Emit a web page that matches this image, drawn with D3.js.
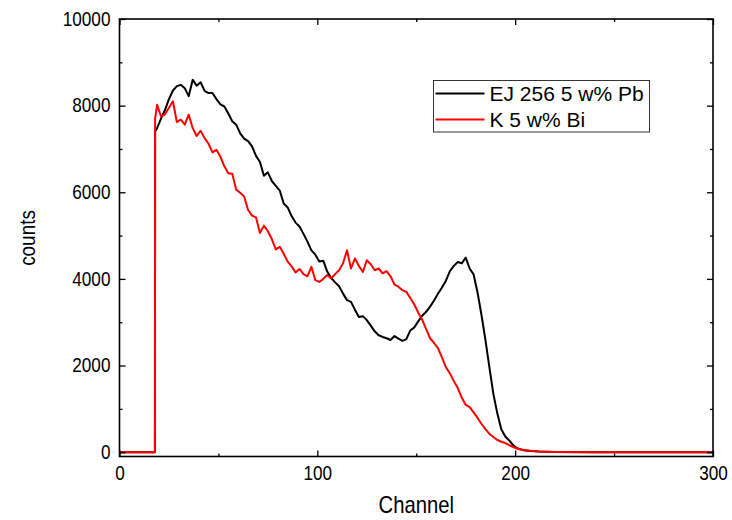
<!DOCTYPE html>
<html>
<head>
<meta charset="utf-8">
<script src="https://cdn.jsdelivr.net/npm/d3@7"></script>
<style>
  body { margin: 0; background: #fff; }
  text { font-family: "Liberation Sans", Arial, sans-serif; }
</style>
</head>
<body>
<div id="canvas"></div>
<script>
"use strict"

let drawingWidth = 732;
let drawingHeight = 520;

/* data */
let channels = [0, 17.9, 18, 19, 21, 23, 25, 27, 29, 31, 33, 35, 37, 39, 41, 43, 45, 47, 49,
    51, 53, 55, 57, 59, 61, 63, 65, 67, 69, 71, 73, 75, 77, 79, 81, 83, 85, 87, 89,
    91, 93, 95, 97, 99, 101, 103, 105, 107, 109, 111, 113, 115, 117, 119, 121, 123, 125, 127, 129,
    131, 133, 135, 137, 139, 141, 143, 145, 147, 149, 151, 153, 155, 157, 159, 161, 163, 165, 167, 169,
    171, 173, 175, 177, 179, 181, 183, 185, 187, 189, 191, 193, 195, 197, 199, 201, 203, 205, 208,
    212, 220, 240, 300];

let countsPb = [0, 0, 7400, 7480, 7700, 7900, 8150, 8350, 8450, 8480, 8400, 8220, 8600, 8460, 8540, 8340, 8290, 8290, 8150,
    8030, 7980, 7820, 7640, 7560, 7360, 7240, 7180, 7060, 6840, 6700, 6380, 6460, 6260, 6150, 6040, 5740, 5650, 5450, 5300,
    5210, 5040, 4860, 4660, 4560, 4400, 4420, 4170, 4020, 3920, 3830, 3660, 3510, 3470, 3290, 3120, 3140, 3050, 2920, 2790,
    2700, 2660, 2630, 2590, 2680, 2620, 2570, 2610, 2810, 2880, 3020, 3150, 3240, 3360, 3500, 3660, 3800, 3960, 4180, 4300,
    4390, 4360, 4490, 4240, 4100, 3680, 3160, 2580, 1950, 1340, 890, 530, 360, 270, 160, 90, 60, 40, 25,
    15, 5, 0, 0];

let countsBi = [0, 0, 7700, 8020, 7750, 7800, 7950, 8100, 7620, 7680, 7560, 7790, 7480, 7300, 7420, 7250, 7120, 6920, 6980,
    6820, 6600, 6440, 6430, 6060, 5990, 5900, 5590, 5460, 5420, 5060, 5230, 5100, 4920, 4680, 4740, 4580, 4400, 4290, 4150,
    4230, 4110, 4060, 4280, 3970, 3930, 4000, 4090, 4010, 4110, 4200, 4360, 4660, 4240, 4470, 4300, 4160, 4430, 4340, 4200,
    4240, 4130, 4180, 4060, 3870, 3820, 3740, 3700, 3560, 3410, 3220, 3060, 2840, 2630, 2520, 2400, 2190, 1960, 1820, 1640,
    1480, 1260, 1090, 1040, 920, 790, 650, 530, 420, 350, 280, 240, 210, 160, 120, 80, 60, 50, 30,
    15, 5, 0, 0];

let seriesNames = ["EJ 256 5 w% Pb", "K 5 w% Bi"];
let seriesColors = ["#000000", "#ff0000"];
let xTickValues = [0, 100, 200, 300];
let xMinorValues = [50, 150, 250];
let yTickValues = [0, 2000, 4000, 6000, 8000, 10000];
let yMinorValues = [1000, 3000, 5000, 7000, 9000];

let plotLeft = 119.5, plotRight = 713, plotTop = 19, plotBottom = 456.5;
let squeeze = 0.88; // the original font is a bit narrow

let drawing = d3.select("#canvas")
    .append("svg")
    .attr("width", drawingWidth)
    .attr("height", drawingHeight);

let xScale = d3.scaleLinear().domain([0, 300]).range([plotLeft, plotRight]);
let yScale = d3.scaleLinear().domain([-100, 10000]).range([plotBottom, plotTop]);

/* curves: black first, red drawn over it */
let lineMaker = d3.line()
    .x((d, i) => xScale(channels[i]))
    .y(d => yScale(d));

[countsPb, countsBi].forEach((counts, k) => {
    drawing.append("path")
        .attr("d", lineMaker(counts))
        .attr("fill", "none")
        .attr("stroke", seriesColors[k])
        .attr("stroke-width", 2)
        .attr("stroke-linejoin", "round");
});

/* axes with inward ticks on all four sides */
function styleAxis(g) {
    g.select(".domain").remove();
    g.selectAll("line").attr("stroke", "#000").attr("stroke-width", 1.3);
    g.selectAll("text")
        .attr("fill", "#000")
        .style("font-size", "19.5px")
        .attr("transform", `scale(${squeeze},1)`);
}

drawing.append("g").attr("transform", `translate(0,${plotBottom})`)
    .call(d3.axisBottom(xScale).tickValues(xTickValues).tickSizeInner(-6).tickSizeOuter(0).tickPadding(9.5))
    .call(styleAxis);
drawing.append("g").attr("transform", `translate(0,${plotBottom})`)
    .call(d3.axisBottom(xScale).tickValues(xMinorValues).tickSizeInner(-3).tickSizeOuter(0).tickFormat(""))
    .call(styleAxis);
drawing.append("g").attr("transform", `translate(0,${plotTop})`)
    .call(d3.axisTop(xScale).tickValues(xTickValues).tickSizeInner(-6).tickSizeOuter(0).tickFormat(""))
    .call(styleAxis);
drawing.append("g").attr("transform", `translate(0,${plotTop})`)
    .call(d3.axisTop(xScale).tickValues(xMinorValues).tickSizeInner(-3).tickSizeOuter(0).tickFormat(""))
    .call(styleAxis);

drawing.append("g").attr("transform", `translate(${plotLeft},0)`)
    .call(d3.axisLeft(yScale).tickValues(yTickValues).tickSizeInner(-6).tickSizeOuter(0).tickPadding(10.3).tickFormat(d3.format("d")))
    .call(styleAxis);
drawing.append("g").attr("transform", `translate(${plotLeft},0)`)
    .call(d3.axisLeft(yScale).tickValues(yMinorValues).tickSizeInner(-3).tickSizeOuter(0).tickFormat(""))
    .call(styleAxis);
drawing.append("g").attr("transform", `translate(${plotRight},0)`)
    .call(d3.axisRight(yScale).tickValues(yTickValues).tickSizeInner(-6).tickSizeOuter(0).tickFormat(""))
    .call(styleAxis);
drawing.append("g").attr("transform", `translate(${plotRight},0)`)
    .call(d3.axisRight(yScale).tickValues(yMinorValues).tickSizeInner(-3).tickSizeOuter(0).tickFormat(""))
    .call(styleAxis);

/* plot frame */
drawing.append("rect")
    .attr("x", plotLeft)
    .attr("y", plotTop)
    .attr("width", plotRight - plotLeft)
    .attr("height", plotBottom - plotTop)
    .attr("fill", "none")
    .attr("stroke", "#000")
    .attr("stroke-width", 1.6);

/* axis titles */
drawing.append("text")
    .attr("transform", `translate(${(plotLeft + plotRight) / 2},513) scale(${squeeze},1)`)
    .attr("text-anchor", "middle")
    .style("font-size", "23px")
    .text("Channel");

drawing.append("text")
    .attr("transform", `translate(35,238) rotate(-90) scale(${squeeze},1)`)
    .attr("text-anchor", "middle")
    .style("font-size", "21.5px")
    .text("counts");

/* legend */
let legend = drawing.append("g").attr("transform", "translate(433.5,80.5)");
legend.append("rect")
    .attr("width", 216)
    .attr("height", 51.5)
    .attr("fill", "#fff")
    .attr("stroke", "#333")
    .attr("stroke-width", 1);

seriesNames.forEach((name, k) => {
    let y = 13 + k * 26;
    legend.append("line")
        .attr("x1", 2).attr("x2", 51)
        .attr("y1", y).attr("y2", y)
        .attr("stroke", seriesColors[k])
        .attr("stroke-width", 2);
    legend.append("text")
        .attr("x", 56)
        .attr("y", y + 7)
        .style("font-size", "21px")
        .text(name);
});
</script>
</body>
</html>
